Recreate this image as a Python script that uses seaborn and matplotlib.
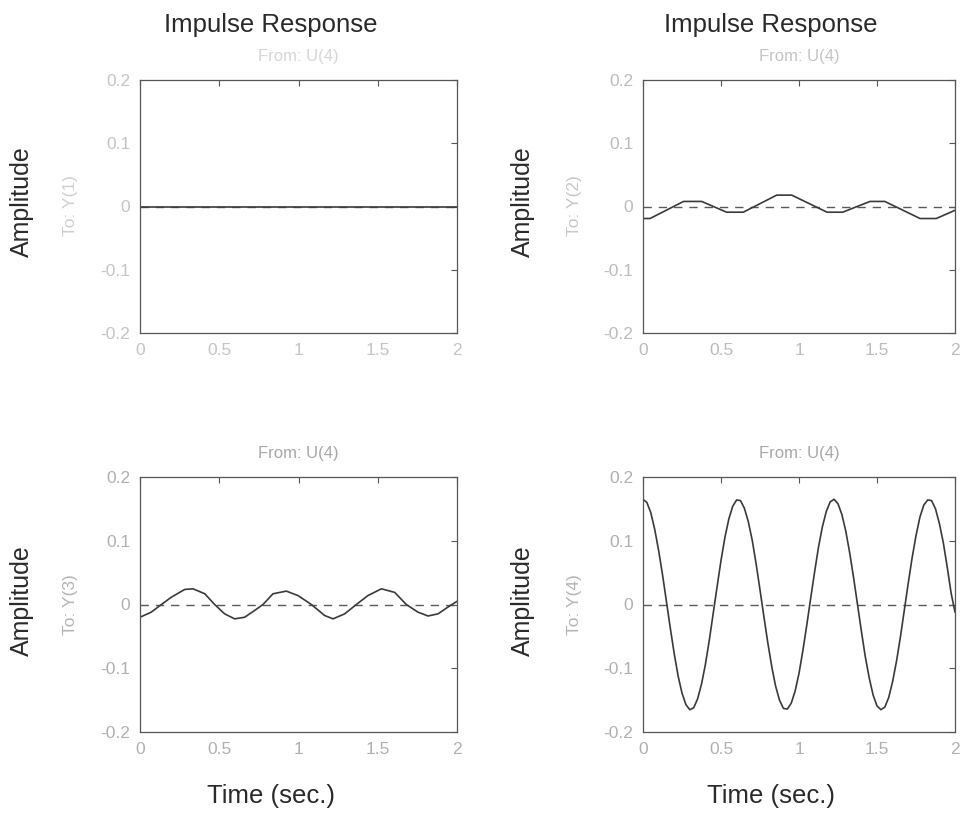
import numpy as np
import pandas as pd
import matplotlib
matplotlib.use("Agg")
import matplotlib.pyplot as plt
import seaborn as sns

# ---- data -------------------------------------------------------------
x_ticks = [0, 0.5, 1, 1.5, 2]
x_tick_labels = ["0", "0.5", "1", "1.5", "2"]
y_ticks = [-0.2, -0.1, 0, 0.1, 0.2]
y_tick_labels = ["-0.2", "-0.1", "0", "0.1", "0.2"]

# Y(1): flat zero response
t_y1 = [0.0, 2.0]
amp_y1 = [0.0, 0.0]

# Y(2): small plateau-shaped oscillation
t_y2 = [0.0, 0.045, 0.26, 0.376, 0.536, 0.643, 0.857, 0.953, 1.18, 1.28,
        1.455, 1.55, 1.776, 1.88, 2.0]
amp_y2 = [-0.019, -0.019, 0.008, 0.008, -0.009, -0.009, 0.018, 0.018, -0.009,
          -0.009, 0.008, 0.008, -0.019, -0.019, -0.006]

# Y(3): small oscillation
t_y3 = [0.0, 0.071, 0.135, 0.198, 0.282, 0.334, 0.408, 0.471, 0.534, 0.597,
        0.66, 0.723, 0.776, 0.839, 0.923, 0.997, 1.081, 1.165, 1.218, 1.291,
        1.365, 1.438, 1.523, 1.607, 1.68, 1.754, 1.817, 1.88, 1.943, 2.0]
amp_y3 = [-0.020, -0.012, 0.0, 0.0115, 0.0236, 0.0246, 0.017, 0.0, -0.0147,
          -0.0225, -0.020, -0.0094, 0.0, 0.0168, 0.021, 0.014, 0.0, -0.0173,
          -0.0225, -0.0147, 0.0, 0.014, 0.0246, 0.019, 0.0, -0.012, -0.018,
          -0.0147, -0.004, 0.005]

# Y(4): large oscillation
t_y4 = [0.0, 0.025, 0.05, 0.075, 0.1, 0.125, 0.15, 0.175, 0.2, 0.225, 0.25,
        0.275, 0.3, 0.325, 0.35, 0.375, 0.4, 0.425, 0.45, 0.475, 0.5, 0.525,
        0.55, 0.575, 0.6, 0.625, 0.65, 0.675, 0.7, 0.725, 0.75, 0.775, 0.8,
        0.825, 0.85, 0.875, 0.9, 0.925, 0.95, 0.975, 1.0, 1.025, 1.05, 1.075,
        1.1, 1.125, 1.15, 1.175, 1.2, 1.225, 1.25, 1.275, 1.3, 1.325, 1.35,
        1.375, 1.4, 1.425, 1.45, 1.475, 1.5, 1.525, 1.55, 1.575, 1.6, 1.625,
        1.65, 1.675, 1.7, 1.725, 1.75, 1.775, 1.8, 1.825, 1.85, 1.875, 1.9,
        1.925, 1.95, 1.975, 2.0]
amp_y4 = [0.165, 0.160, 0.144, 0.118, 0.085, 0.047, 0.005, -0.037, -0.077,
          -0.112, -0.139, -0.157, -0.165, -0.162, -0.148, -0.125, -0.094,
          -0.056, -0.014, 0.028, 0.069, 0.105, 0.134, 0.154, 0.164, 0.163,
          0.151, 0.130, 0.101, 0.064, 0.023, -0.019, -0.060, -0.097, -0.128,
          -0.150, -0.163, -0.164, -0.155, -0.136, -0.108, -0.072, -0.032,
          0.010, 0.051, 0.090, 0.122, 0.146, 0.161, 0.165, 0.158, 0.141,
          0.115, 0.081, 0.042, 0.000, -0.042, -0.082, -0.115, -0.142, -0.159,
          -0.165, -0.161, -0.146, -0.121, -0.089, -0.051, -0.009, 0.033,
          0.073, 0.108, 0.137, 0.156, 0.164, 0.163, 0.150, 0.127, 0.097,
          0.059, 0.018, -0.012]

outputs = ["Y(1)", "Y(2)", "Y(3)", "Y(4)"]
series = [(t_y1, amp_y1), (t_y2, amp_y2), (t_y3, amp_y3), (t_y4, amp_y4)]

# ---- styling ----------------------------------------------------------
sns.set_theme(style="white")
plt.rcParams["font.family"] = ["Liberation Sans", "DejaVu Sans"]

W, H = 960, 815
fig = plt.figure(figsize=(W / 100, H / 100), dpi=100)


def px_rect(left, top, right, bottom):
    return [left / W, 1 - bottom / H, (right - left) / W, (bottom - top) / H]


rects = [px_rect(140, 80, 457, 333), px_rect(643, 80, 955, 333),
         px_rect(140, 477, 457, 732), px_rect(643, 477, 955, 732)]

from_colors = ["#d6d6d6", "#c4c4c4", "#a8a8a8", "#a8a8a8"]
to_colors = ["#d0d0d0", "#c8c8c8", "#b4b4b4", "#b4b4b4"]
tick_colors = ["#c4c4c4", "#bcbcbc", "#b0b0b0", "#b0b0b0"]
line_color = "#3a3a3a"

for i, (rect, (tt, aa)) in enumerate(zip(rects, series)):
    ax = fig.add_axes(rect)
    df = pd.DataFrame({"Time": tt, "Amplitude": aa})
    ax.axhline(0, color="#5a5a5a", lw=1.0, ls=(0, (6, 5)), zorder=1)
    sns.lineplot(data=df, x="Time", y="Amplitude", ax=ax, color=line_color,
                 lw=1.2, zorder=2)
    ax.set_xlim(0, 2)
    ax.set_ylim(-0.2, 0.2)
    ax.set_xticks(x_ticks)
    ax.set_xticklabels(x_tick_labels)
    ax.set_yticks(y_ticks)
    ax.set_yticklabels(y_tick_labels)
    ax.set_xlabel("")
    ax.set_ylabel("")
    ax.tick_params(direction="in", length=4, width=0.8, color="#555555",
                   top=True, right=True, labelsize=12.5,
                   labelcolor=tick_colors[i], pad=7)
    for sp in ax.spines.values():
        sp.set_color("#555555")
        sp.set_linewidth(0.9)
    ax.set_title("From: U(4)", fontsize=12, color=from_colors[i], pad=14)

    # output label ("To: ...") and Amplitude label
    col_x = 0 if i % 2 == 0 else 1
    row_y = 0 if i < 2 else 1
    to_x = [71, 574][col_x]
    amp_x = [22, 523][col_x]
    mid_y = [206, 605][row_y]
    fig.text(to_x / W, 1 - mid_y / H, "To: " + outputs[i], rotation=90,
             ha="center", va="center", fontsize=12.5, color=to_colors[i])
    fig.text(amp_x / W, 1 - (mid_y - 4) / H, "Amplitude", rotation=90,
             ha="center", va="center", fontsize=18, color="#2a2a2a")

for cx in (271, 771):
    fig.text(cx / W, 1 - 25 / H, "Impulse Response", ha="center",
             va="center", fontsize=18.5, color="#2a2a2a")
    fig.text(cx / W, 1 - 796 / H, "Time (sec.)", ha="center", va="center",
             fontsize=18.5, color="#2a2a2a")

fig.savefig("out.png", dpi=100, facecolor="white")
